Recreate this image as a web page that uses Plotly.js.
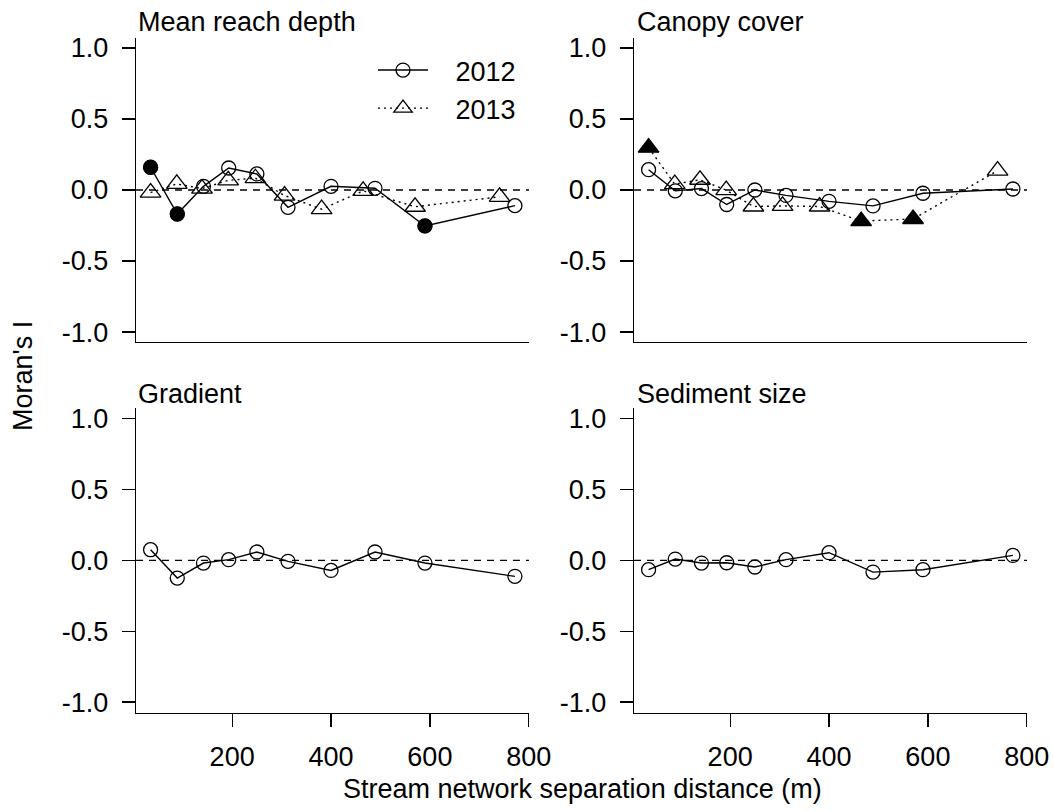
<!DOCTYPE html>
<html>
<head>
<meta charset="utf-8">
<script src="https://cdn.plot.ly/plotly-3.0.1.min.js"></script>
<style>
  html, body { margin: 0; padding: 0; background: #fff; }
  #chart { width: 1054px; height: 811px; }
</style>
</head>
<body>
<div id="chart"></div>
<script>
// ---------------- data ----------------
const panelTitles = ["Mean reach depth", "Canopy cover", "Gradient", "Sediment size"];
const yearNames = ["2012", "2013"];
const dist2012 = [35, 89, 142, 193, 250, 313, 400, 489, 590, 772];
const dist2013 = [35, 88, 139, 192, 247, 306, 381, 465, 570, 741];

const depth2012 = [0.160, -0.169, 0.026, 0.155, 0.113, -0.122, 0.026, 0.012, -0.253, -0.110];
const depth2012Sig = [1, 1, 0, 0, 0, 0, 0, 0, 1, 0];
const depth2013 = [-0.018, 0.043, 0.010, 0.068, 0.083, -0.039, -0.135, -0.006, -0.118, -0.048];
const depth2013Sig = [0, 0, 0, 0, 0, 0, 0, 0, 0, 0];

const canopy2012 = [0.143, -0.006, 0.010, -0.102, 0.000, -0.038, -0.080, -0.112, -0.023, 0.007];
const canopy2012Sig = [0, 0, 0, 0, 0, 0, 0, 0, 0, 0];
const canopy2013 = [0.298, 0.041, 0.072, -0.001, -0.116, -0.112, -0.116, -0.219, -0.204, 0.136];
const canopy2013Sig = [1, 0, 0, 0, 0, 0, 0, 1, 1, 0];

const gradient2012 = [0.075, -0.125, -0.019, 0.005, 0.059, -0.007, -0.071, 0.059, -0.019, -0.113];
const gradient2012Sig = [0, 0, 0, 0, 0, 0, 0, 0, 0, 0];

const sediment2012 = [-0.066, 0.009, -0.019, -0.017, -0.047, 0.005, 0.054, -0.083, -0.066, 0.035];
const sediment2012Sig = [0, 0, 0, 0, 0, 0, 0, 0, 0, 0];

const yTickVals = [-1, -0.5, 0, 0.5, 1];
const yTickText = ["-1.0", "-0.5", "0.0", "0.5", "1.0"];
const xTickVals = [200, 400, 600, 800];
const xTickText = ["200", "400", "600", "800"];
const xTitle = "Stream network separation distance (m)";
const yTitle = "Moran's I";
const refLevel = 0;

// ---------------- styling ----------------
const W = 1054, H = 811;
const FONT = "Liberation Sans, Arial, Helvetica, sans-serif";
const FS = 27;
const LW = 1.3;

const styles = {
  "2012": { dash: "solid", open: "circle-open", filled: "circle", size: 14, fsize: 15 },
  "2013": { dash: "2px,4px", open: "triangle-up-open", filled: "triangle-up", size: 18, fsize: 18 }
};

function seriesTraces(axIdx, xs, ys, sig, year, showLegend) {
  const st = styles[year];
  const xa = axIdx === 1 ? "x" : "x" + axIdx;
  const ya = axIdx === 1 ? "y" : "y" + axIdx;
  const main = {
    type: "scatter", mode: "lines+markers", x: xs, y: ys, xaxis: xa, yaxis: ya,
    name: "\u00a0\u00a0\u00a0" + year, showlegend: showLegend, legendgroup: year,
    line: { color: "#000", width: 1.4, dash: st.dash },
    marker: { symbol: st.open, size: st.size, color: "#000", line: { width: 1.3, color: "#000" } },
    cliponaxis: false, hoverinfo: "x+y"
  };
  const sx = [], sy = [];
  sig.forEach((s, i) => { if (s) { sx.push(xs[i]); sy.push(ys[i]); } });
  const filled = {
    type: "scatter", mode: "markers", x: sx, y: sy, xaxis: xa, yaxis: ya,
    showlegend: false, legendgroup: year,
    marker: { symbol: st.filled, size: st.fsize, color: "#000", line: { width: 0 } },
    cliponaxis: false, hoverinfo: "x+y"
  };
  return [main, filled];
}

const traces = [].concat(
  seriesTraces(1, dist2012, depth2012, depth2012Sig, "2012", true),
  seriesTraces(1, dist2013, depth2013, depth2013Sig, "2013", true),
  seriesTraces(2, dist2012, canopy2012, canopy2012Sig, "2012", false),
  seriesTraces(2, dist2013, canopy2013, canopy2013Sig, "2013", false),
  seriesTraces(3, dist2012, gradient2012, gradient2012Sig, "2012", false),
  seriesTraces(4, dist2012, sediment2012, sediment2012Sig, "2012", false)
);

const xLeft = [136 / W, 529 / W];
const xRight = [634 / W, 1027 / W];
const yTop = [1 - 342 / H, 1 - 38 / H];
const yBot = [1 - 712.7 / H, 1 - 408 / H];

function xAxis(domain, anchor, withTicks) {
  return {
    domain: domain, anchor: anchor, range: [5.5, 800.5],
    showline: true, linecolor: "#000", linewidth: LW,
    showgrid: false, zeroline: false,
    ticks: withTicks ? "outside" : "", ticklen: 13, tickwidth: LW, tickcolor: "#000",
    tickmode: "array", tickvals: xTickVals, ticktext: xTickText,
    showticklabels: withTicks, ticklabelstandoff: 7,
    tickfont: { family: FONT, size: FS, color: "#000" }, fixedrange: true
  };
}
function yAxis(domain, anchor, range) {
  return {
    domain: domain, anchor: anchor, range: range,
    showline: true, linecolor: "#000", linewidth: LW,
    showgrid: false, zeroline: false,
    ticks: "outside", ticklen: 13, tickwidth: LW, tickcolor: "#000",
    tickmode: "array", tickvals: yTickVals, ticktext: yTickText,
    ticklabelstandoff: 8,
    tickfont: { family: FONT, size: FS, color: "#000" }, fixedrange: true
  };
}

const shapes = [1, 2, 3, 4].map(i => ({
  type: "line", xref: (i === 1 ? "x" : "x" + i) + " domain", x0: 0, x1: 1,
  yref: i === 1 ? "y" : "y" + i, y0: refLevel, y1: refLevel,
  line: { color: "#000", width: 1.4, dash: "7px,6px" }, layer: "below"
}));

const titlePos = [[136.5, 22.5], [636, 22.5], [136.5, 393.5], [636, 393.5]];
const annotations = panelTitles.map((t, i) => ({
  text: t, xref: "paper", yref: "paper",
  x: titlePos[i][0] / W, y: 1 - titlePos[i][1] / H,
  xanchor: "left", yanchor: "middle", showarrow: false, borderpad: 0,
  font: { family: FONT, size: FS, color: "#000" }
}));
annotations.push({
  text: xTitle, xref: "paper", yref: "paper", x: 582 / W, y: 1 - 789 / H,
  xanchor: "center", yanchor: "middle", showarrow: false, borderpad: 0,
  font: { family: FONT, size: FS, color: "#000" }
});
annotations.push({
  text: yTitle, xref: "paper", yref: "paper", x: 23 / W, y: 1 - 376 / H,
  xanchor: "center", yanchor: "middle", showarrow: false, borderpad: 0, textangle: -90,
  font: { family: FONT, size: FS, color: "#000" }
});

const layout = {
  width: W, height: H, autosize: false,
  margin: { l: 0, r: 0, t: 0, b: 0, pad: 0 },
  paper_bgcolor: "#fff", plot_bgcolor: "rgba(0,0,0,0)",
  font: { family: FONT, size: FS, color: "#000" },
  showlegend: true,
  legend: {
    x: 373 / W, y: 1 - 46 / H, xanchor: "left", yanchor: "top",
    bgcolor: "rgba(0,0,0,0)", borderwidth: 0, itemwidth: 50,
    font: { family: FONT, size: FS, color: "#000" }, traceorder: "normal",
    tracegroupgap: 0, itemclick: false, itemdoubleclick: false
  },
  xaxis: xAxis(xLeft, "y", false),
  yaxis: yAxis(yTop, "x", [-1.07, 1.07]),
  xaxis2: xAxis(xRight, "y2", false),
  yaxis2: yAxis(yTop, "x2", [-1.07, 1.07]),
  xaxis3: xAxis(xLeft, "y3", true),
  yaxis3: yAxis(yBot, "x3", [-1.075, 1.075]),
  xaxis4: xAxis(xRight, "y4", true),
  yaxis4: yAxis(yBot, "x4", [-1.075, 1.075]),
  shapes: shapes,
  annotations: annotations
};

Plotly.newPlot("chart", traces, layout, { displayModeBar: false, staticPlot: true });
</script>
</body>
</html>
